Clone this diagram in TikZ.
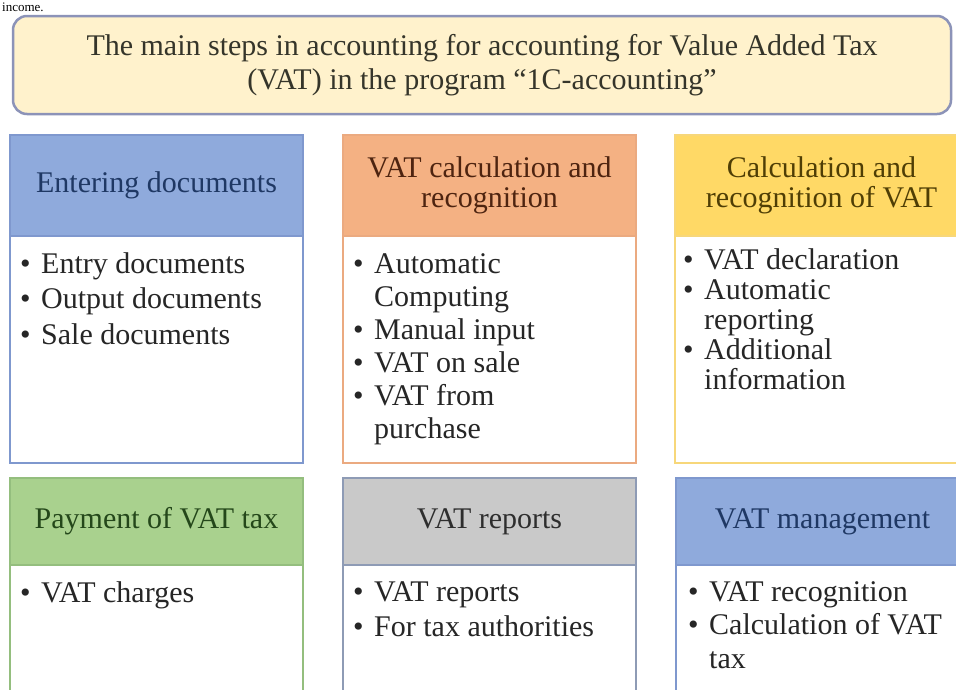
\documentclass[tikz,border=0pt]{standalone}
\usepackage{fontspec}
\setmainfont{Liberation Serif}
\usetikzlibrary{positioning}

\definecolor{titlefill}{HTML}{FFF2CC}
\definecolor{titleline}{HTML}{8C93B8}
\definecolor{titletext}{HTML}{35352A}
\definecolor{bodytext}{HTML}{262626}
\definecolor{blueH}{HTML}{8FAADC}
\definecolor{blueB}{HTML}{7F98CE}
\definecolor{blueT}{HTML}{1F3864}
\definecolor{orangeH}{HTML}{F4B183}
\definecolor{orangeB}{HTML}{EBAA80}
\definecolor{orangeT}{HTML}{4E2410}
\definecolor{goldH}{HTML}{FFD966}
\definecolor{goldB}{HTML}{F7D77A}
\definecolor{goldT}{HTML}{4F3E05}
\definecolor{greenH}{HTML}{A9D18E}
\definecolor{greenB}{HTML}{94BE7E}
\definecolor{greenT}{HTML}{24471A}
\definecolor{grayH}{HTML}{C9C9C9}
\definecolor{grayB}{HTML}{8E9BB5}
\definecolor{grayT}{HTML}{2E2E2E}

\newcommand{\itm}[1]{\makebox[21pt][l]{\textbullet}#1}
\newcommand{\cnt}[1]{\hspace*{21pt}#1}

\begin{document}
\begin{tikzpicture}[x=1pt,y=1pt,
    head/.style={draw,line width=1.5pt,outer sep=0pt,minimum width=293pt,
      align=center,font=\fontsize{30}{30}\selectfont},
    panel/.style={draw,fill=white,line width=1.5pt,outer sep=0pt,minimum width=293pt},
    items/.style={anchor=north west,align=left,inner sep=0pt,text=bodytext}]

  \useasboundingbox[fill=white] (0,0) rectangle (956,-689);

  \node[anchor=base west,inner sep=0pt,font=\fontsize{13}{13}\selectfont] (prev) at (2,-11) {income.};

  % title
  \node[draw=titleline,line width=2.5pt,fill=titlefill,rounded corners=14pt,
        minimum width=938pt,minimum height=98pt,align=center,text=titletext,
        font=\fontsize{30}{34}\selectfont] (title) at (482,-65)
        {The main steps in accounting for accounting for Value Added Tax\\
         (VAT) in the program ``1C-accounting''};

  % first row
  \node[head,minimum height=101pt,fill=blueH,draw=blueB,text=blueT] (enter) at (156.5,-185.5)
        {Entering documents};
  \node[panel,minimum height=227pt,draw=blueB,below=0pt of enter] (enterbox) {};
  \node[items,font=\fontsize{30}{35.5}\selectfont,below right=16pt and 10pt of enterbox.north west] (enterlist)
        {\itm{Entry documents}\\ \itm{Output documents}\\ \itm{Sale documents}};

  \node[head,minimum height=101pt,fill=orangeH,draw=orangeB,text=orangeT] (calc) at (489.5,-185.5)
        {VAT calculation and\\ recognition};
  \node[panel,minimum height=227pt,draw=orangeB,below=0pt of calc] (calcbox) {};
  \node[items,font=\fontsize{30}{33}\selectfont,below right=17pt and 10pt of calcbox.north west] (calclist)
        {\itm{Automatic}\\ \cnt{Computing}\\ \itm{Manual input}\\ \itm{VAT on sale}\\
         \itm{VAT from}\\ \cnt{purchase}};

  \node[head,minimum height=101pt,fill=goldH,draw=goldB,text=goldT] (recog) at (821.5,-185.5)
        {Calculation and\\ recognition of VAT};
  \node[panel,minimum height=227pt,draw=goldB,below=0pt of recog] (recogbox) {};
  \node[items,font=\fontsize{30}{30}\selectfont,below right=12pt and 8pt of recogbox.north west] (recoglist)
        {\itm{VAT declaration}\\ \itm{Automatic}\\ \cnt{reporting}\\ \itm{Additional}\\
         \cnt{information}};

  % second row
  \node[head,minimum height=87pt,fill=greenH,draw=greenB,text=greenT] (pay) at (156.5,-521.5)
        {Payment of VAT tax};
  \node[panel,minimum height=140pt,draw=greenB,below=0pt of pay] (paybox) {};
  \node[items,font=\fontsize{30}{35}\selectfont,below right=16pt and 10pt of paybox.north west] (paylist)
        {\itm{VAT charges}};

  \node[head,minimum height=87pt,fill=grayH,draw=grayB,text=grayT] (report) at (489.5,-521.5)
        {VAT reports};
  \node[panel,minimum height=140pt,draw=grayB,below=0pt of report] (reportbox) {};
  \node[items,font=\fontsize{30}{35}\selectfont,below right=16pt and 10pt of reportbox.north west] (reportlist)
        {\itm{VAT reports}\\ \itm{For tax authorities}};

  \node[head,minimum height=87pt,fill=blueH,draw=blueB,text=blueT] (manage) at (822.5,-521.5)
        {VAT management};
  \node[panel,minimum height=140pt,draw=blueB,below=0pt of manage] (managebox) {};
  \node[items,font=\fontsize{30}{33.5}\selectfont,below right=16pt and 12pt of managebox.north west] (managelist)
        {\itm{VAT recognition}\\ \itm{Calculation of VAT}\\ \cnt{tax}};

\end{tikzpicture}
\end{document}
